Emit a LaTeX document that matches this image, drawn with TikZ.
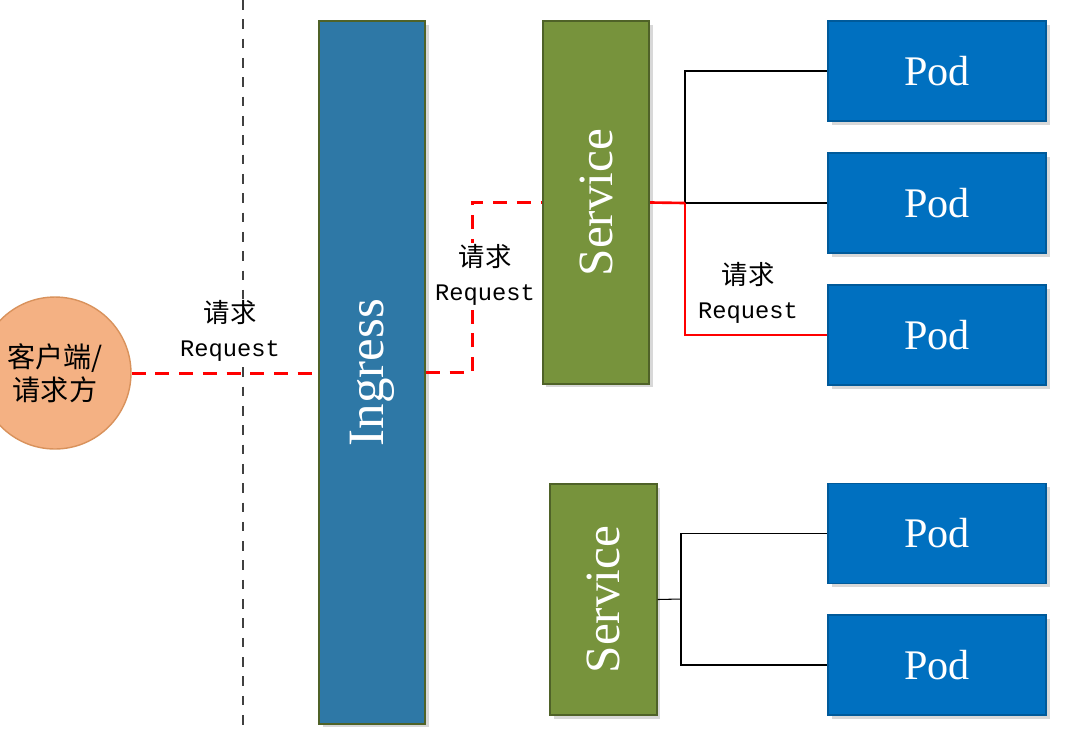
\documentclass[tikz,border=0pt]{standalone}
\usepackage{fontspec}
\setmainfont{Liberation Serif}
\newfontfamily\cjk{Noto Sans CJK SC}
\newfontfamily\reqmono{Liberation Mono}
\usetikzlibrary{shadows}
\definecolor{ingblue}{HTML}{2E78A6}
\definecolor{svcgreen}{HTML}{77933C}
\definecolor{boxrim}{HTML}{4F6228}
\definecolor{podblue}{HTML}{0070C0}
\definecolor{podrim}{HTML}{005A9A}
\definecolor{peach}{HTML}{F4B183}
\definecolor{peachrim}{HTML}{D9925C}
\begin{document}
\begin{tikzpicture}[x=0.02cm,y=-0.02cm,
  box/.style={rectangle,draw,line width=1pt,text=white,inner sep=0pt,
    drop shadow={shadow xshift=2pt,shadow yshift=-2pt,opacity=0.3}},
  ingbox/.style={box,fill=ingblue,draw=boxrim,minimum width=2.12cm,minimum height=14.06cm,
    font=\fontsize{29pt}{32pt}\selectfont},
  svcbox/.style={box,fill=svcgreen,draw=boxrim,minimum width=2.13cm,
    font=\fontsize{28pt}{32pt}\selectfont},
  podbox/.style={box,fill=podblue,draw=podrim,minimum width=4.36cm,minimum height=2.0cm,
    font=\fontsize{24pt}{28pt}\selectfont},
  req/.style={align=center,inner sep=1pt,fill=white,font=\fontsize{13.5pt}{19.5pt}\selectfont},
  reqdash/.style={red,line width=1.7pt,dash pattern=on 8pt off 5.5pt},
  reqline/.style={red,line width=1.5pt},
  link/.style={black,line width=0.6pt}]
  \useasboundingbox[fill=white] (0,0) rectangle (1081,731);
  % the border between client and cluster
  \coordinate (top) at (243,0);
  \coordinate (bot) at (243,731);
  \draw[line width=0.8pt,dash pattern=on 5.5pt off 5.5pt,black!75] (top) -- (bot);
  % client
  \node[circle,fill=peach,draw=peachrim,line width=0.8pt,minimum size=3.04cm,align=center,
    font=\cjk\fontsize{16pt}{19pt}\selectfont] (cl) at (55,373) {客户端/\\请求方};
  % ingress and services
  \node[ingbox] (ing) at (372,372.5) {\rotatebox{90}{Ingress}};
  \node[svcbox,minimum height=7.26cm] (svc1) at (596,202.5) {\rotatebox{90}{Service}};
  \node[svcbox,minimum height=4.62cm] (svc2) at (603.5,599.5) {\rotatebox{90}{Service}};
  % pods
  \node[podbox] (pod1) at (937,71) {Pod};
  \node[podbox] (pod2) at (937,203) {Pod};
  \node[podbox] (pod3) at (937,335) {Pod};
  \node[podbox] (pod4) at (937,533.5) {Pod};
  \node[podbox] (pod5) at (937,665) {Pod};
  % request path
  \draw[reqdash] (cl.east) -- (cl.east -| ing.west);
  \coordinate (ij) at (472,290);
  \draw[reqdash] (ing.east) -| (ij) |- (svc1.west);
  \coordinate (s1j) at (685,203);
  \draw[link] (s1j) |- (pod1.west);
  \draw[link] (s1j) -- (pod2.west);
  \draw[reqline] (svc1.east) -- (s1j);
  \draw[reqline] (s1j) |- (pod3.west);
  % second service
  \coordinate (s2j) at (681,599);
  \draw[link] (svc2.east) -- (s2j);
  \draw[link] (pod4.west) -| (s2j) |- (pod5.west);
  % labels
  \node[req] (lab1) at (230,331) {{\cjk\fontsize{15pt}{19.5pt}\selectfont 请求}\\\reqmono Request};
  \node[req] (lab2) at (485,275) {{\cjk\fontsize{15pt}{19.5pt}\selectfont 请求}\\\reqmono Request};
  \node[req] (lab3) at (748,293) {{\cjk\fontsize{15pt}{19.5pt}\selectfont 请求}\\\reqmono Request};
\end{tikzpicture}
\end{document}
